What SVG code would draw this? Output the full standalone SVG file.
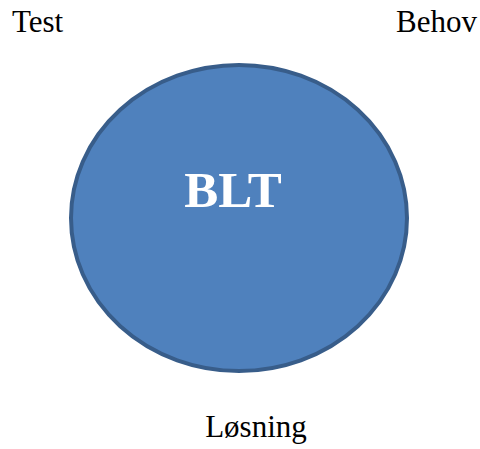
<svg xmlns="http://www.w3.org/2000/svg" width="480" height="449" viewBox="0 0 480 449">
<style>
.lbl{font-family:"Liberation Serif","Times New Roman",serif;font-size:31px;fill:#000}
.big{font-family:"Liberation Serif","Times New Roman",serif;font-size:51px;font-weight:bold;fill:#fff}
</style>
<rect width="480" height="449" fill="#fff"/>
<g id="blt">
<ellipse cx="239" cy="218" rx="168" ry="153" fill="#4F81BD" stroke="#385D8A" stroke-width="4"/>
<text class="big" x="233" y="207" text-anchor="middle">BLT</text>
</g>
<g id="test"><text class="lbl" x="12" y="32">Test</text></g>
<g id="behov"><text class="lbl" x="477" y="32" text-anchor="end">Behov</text></g>
<g id="losning"><text class="lbl" x="256" y="437" text-anchor="middle">Løsning</text></g>
<g id="connectors"></g>
</svg>
